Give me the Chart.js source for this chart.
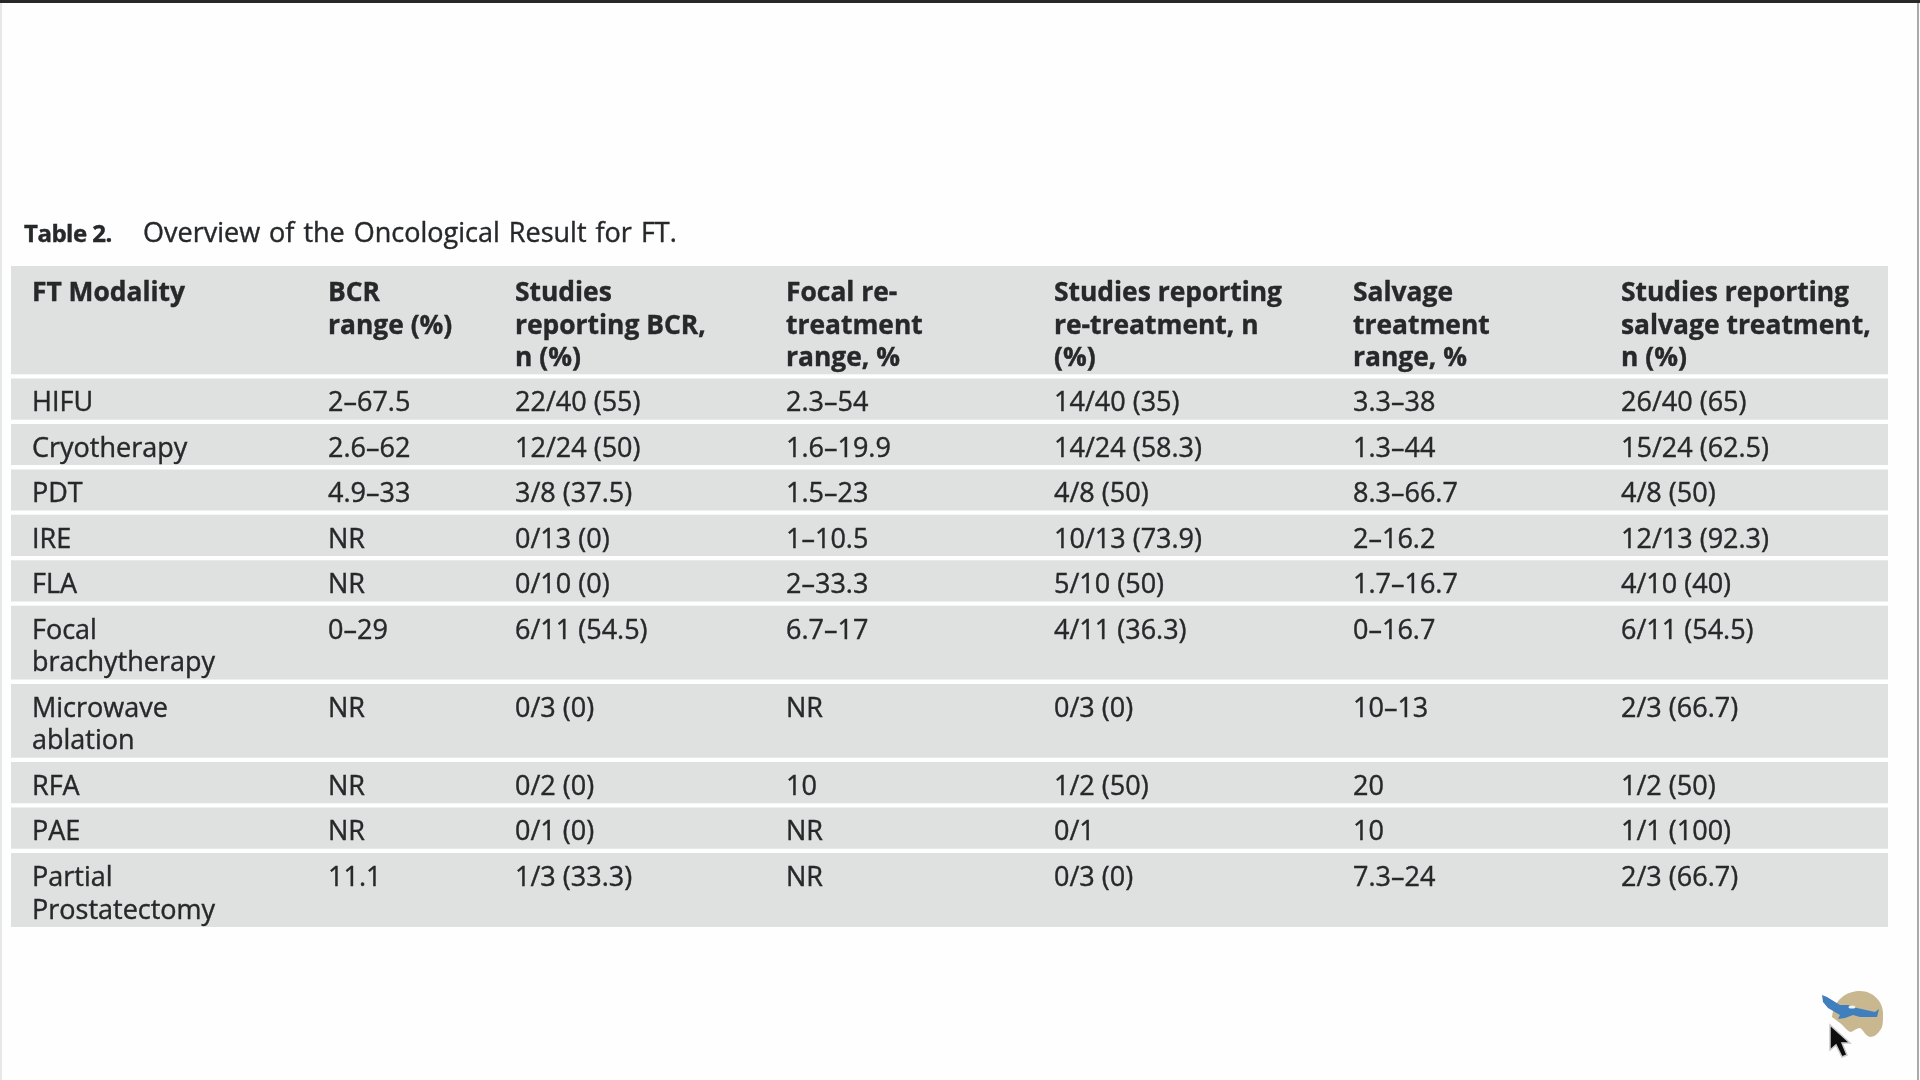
<!DOCTYPE html>
<html>
<head>
<meta charset="utf-8">
<title>Table 2</title>
<script src="https://cdn.jsdelivr.net/npm/chart.js@4"></script>
<style>
  html, body { margin: 0; padding: 0; background: #fdfefd; overflow: hidden; }
  #wrap { position: relative; width: 1920px; height: 1080px; }
  canvas { position: absolute; left: 0; top: 0; }
  svg { position: absolute; left: 0; top: 0; }
</style>
</head>
<body>
<div id="wrap">
  <canvas id="table-chart" width="1920" height="1080"></canvas>
  <!-- video frame edges, logo and mouse pointer -->
  <svg width="1920" height="1080" viewBox="0 0 1920 1080">
    <defs><filter id="soft" x="-20%" y="-20%" width="140%" height="140%"><feGaussianBlur stdDeviation="0.7"/></filter></defs>
    <rect x="0" y="0" width="1920" height="3" fill="#26282a"/>
    <rect x="0" y="3" width="2" height="1077" fill="#e6e8e7"/>
    <rect x="1917" y="3" width="2" height="1077" fill="#a9abaa"/>
    <g filter="url(#soft)">
      <path d="M1832 1017 C1834 1000 1846 991 1860 991 C1874 991 1884 1003 1883 1015 C1883 1020 1883 1023 1882 1027 C1879 1033 1875 1037 1870 1037 C1865 1036 1863 1029 1860 1028 C1856 1028 1853 1032 1850 1032 C1846 1030 1843 1025 1840 1023 Z" fill="#c9b78f"/>
      <path d="M1822 995 L1827 997 L1840 1005 L1848 1005 L1857 1008 L1875 1012 L1879 1009 L1877 1017 L1860 1017 L1853 1015 L1845 1018 L1838 1019 L1840 1015 L1828 1008 L1823 1002 Z" fill="#3f7fbe"/>
      <ellipse cx="1852" cy="1007" rx="3.5" ry="1.6" fill="#f2f2ee"/>
      <path d="M1830 1025 L1830 1050 L1836 1045 L1842 1057 L1847 1055 L1842 1043 L1850 1043 Z" fill="#111" stroke="#c9c9c9" stroke-width="1.5"/>
    </g>
  </svg>
</div>
<script>
const captionLabel = "Table 2.";
const captionText = "Overview of the Oncological Result for FT.";

const headers = [
  "FT Modality",
  "BCR\nrange (%)",
  "Studies\nreporting BCR,\nn (%)",
  "Focal re-\ntreatment\nrange, %",
  "Studies reporting\nre-treatment, n\n(%)",
  "Salvage\ntreatment\nrange, %",
  "Studies reporting\nsalvage treatment,\nn (%)"
];
const modalities = ["HIFU", "Cryotherapy", "PDT", "IRE", "FLA", "Focal\nbrachytherapy", "Microwave\nablation", "RFA", "PAE", "Partial\nProstatectomy"];
const bcrRange = ["2–67.5", "2.6–62", "4.9–33", "NR", "NR", "0–29", "NR", "NR", "NR", "11.1"];
const bcrStudies = ["22/40 (55)", "12/24 (50)", "3/8 (37.5)", "0/13 (0)", "0/10 (0)", "6/11 (54.5)", "0/3 (0)", "0/2 (0)", "0/1 (0)", "1/3 (33.3)"];
const focalRange = ["2.3–54", "1.6–19.9", "1.5–23", "1–10.5", "2–33.3", "6.7–17", "NR", "10", "NR", "NR"];
const focalStudies = ["14/40 (35)", "14/24 (58.3)", "4/8 (50)", "10/13 (73.9)", "5/10 (50)", "4/11 (36.3)", "0/3 (0)", "1/2 (50)", "0/1", "0/3 (0)"];
const salvageRange = ["3.3–38", "1.3–44", "8.3–66.7", "2–16.2", "1.7–16.7", "0–16.7", "10–13", "20", "10", "7.3–24"];
const salvageStudies = ["26/40 (65)", "15/24 (62.5)", "4/8 (50)", "12/13 (92.3)", "4/10 (40)", "6/11 (54.5)", "2/3 (66.7)", "1/2 (50)", "1/1 (100)", "2/3 (66.7)"];

// layout, all in pixels of the 1920x1080 frame
const FONT = '"Open Sans", "Noto Sans", sans-serif';
const BODY_SIZE = 27;
const HEAD_SIZE = 26.4;
const LINE_PX = 32.7;
const PAD_PX = 7.75;
const GAP_PX = 5;
const HEADER_EXTRA_PX = 2;
const LAST_EXTRA_PX = 0.55;
const TABLE = { left: 11, right: 1888, top: 266, bottom: 927 };
const COL_X = [32, 328, 515, 786, 1054, 1353, 1621];
const HEAD_BASELINE = 35;
const BODY_BASELINE = 32.5;
const BAND = "#dfe1e0";
const INK = "#26282a";

const bodyRows = modalities.map((m, i) => [m, bcrRange[i], bcrStudies[i], focalRange[i], focalStudies[i], salvageRange[i], salvageStudies[i]]);
const allRows = [headers, ...bodyRows];

// every band is a floating bar on a y axis measured in text lines
let cursor = 0;
const bands = allRows.map((cells, i) => {
  const lines = Math.max(...cells.map((c) => c.split("\n").length));
  let extra = PAD_PX;
  if (i === 0) extra += HEADER_EXTRA_PX;
  if (i === allRows.length - 1) extra += LAST_EXTRA_PX;
  const band = [cursor, cursor + lines + extra / LINE_PX];
  cursor = band[1] + GAP_PX / LINE_PX;
  return band;
});
const totalUnits = cursor - GAP_PX / LINE_PX;

const drawLine = (ctx, text, x, y) => {
  ctx.fillText(text, x, y);
  ctx.strokeText(text, x, y);
};

const tableText = {
  id: "tableText",
  afterDatasetsDraw(chart) {
    const { ctx, scales } = chart;
    ctx.save();
    ctx.filter = "blur(0.55px)";
    ctx.fillStyle = INK;
    ctx.strokeStyle = INK;
    ctx.lineWidth = 0.4;
    ctx.textBaseline = "alphabetic";
    ctx.textAlign = "left";

    ctx.font = `bold 24px ${FONT}`;
    ctx.letterSpacing = "-0.5px";
    drawLine(ctx, captionLabel, 24, 242);
    ctx.font = `${BODY_SIZE}px ${FONT}`;
    ctx.letterSpacing = "0px";
    ctx.wordSpacing = "2px";
    drawLine(ctx, captionText, 143, 242);
    ctx.wordSpacing = "0px";

    allRows.forEach((cells, r) => {
      ctx.font = r === 0 ? `bold ${HEAD_SIZE}px ${FONT}` : `${BODY_SIZE}px ${FONT}`;
      const top = scales.y.getPixelForValue(bands[r][0]);
      const first = r === 0 ? HEAD_BASELINE : BODY_BASELINE;
      cells.forEach((cell, c) => {
        const x = scales.colX.getPixelForValue(COL_X[c]);
        cell.split("\n").forEach((line, l) => {
          drawLine(ctx, line, x, top + first + l * LINE_PX);
        });
      });
    });
    ctx.restore();
  }
};

new Chart(document.getElementById("table-chart").getContext("2d"), {
  type: "bar",
  data: {
    labels: ["table"],
    datasets: bands.map((band, i) => ({
      label: allRows[i][0].replace("\n", " "),
      data: [band],
      backgroundColor: BAND,
      borderWidth: 0,
      grouped: false,
      barPercentage: 1,
      categoryPercentage: 1
    }))
  },
  options: {
    responsive: false,
    animation: false,
    devicePixelRatio: 1,
    layout: {
      padding: { left: TABLE.left, right: 1920 - TABLE.right, top: TABLE.top, bottom: 1080 - TABLE.bottom }
    },
    plugins: { legend: { display: false }, tooltip: { enabled: false }, title: { display: false } },
    scales: {
      x: { display: false },
      colX: { type: "linear", axis: "x", display: false, offset: false, min: TABLE.left, max: TABLE.right },
      y: { display: false, reverse: true, min: 0, max: totalUnits }
    }
  },
  plugins: [tableText]
});
</script>
</body>
</html>
